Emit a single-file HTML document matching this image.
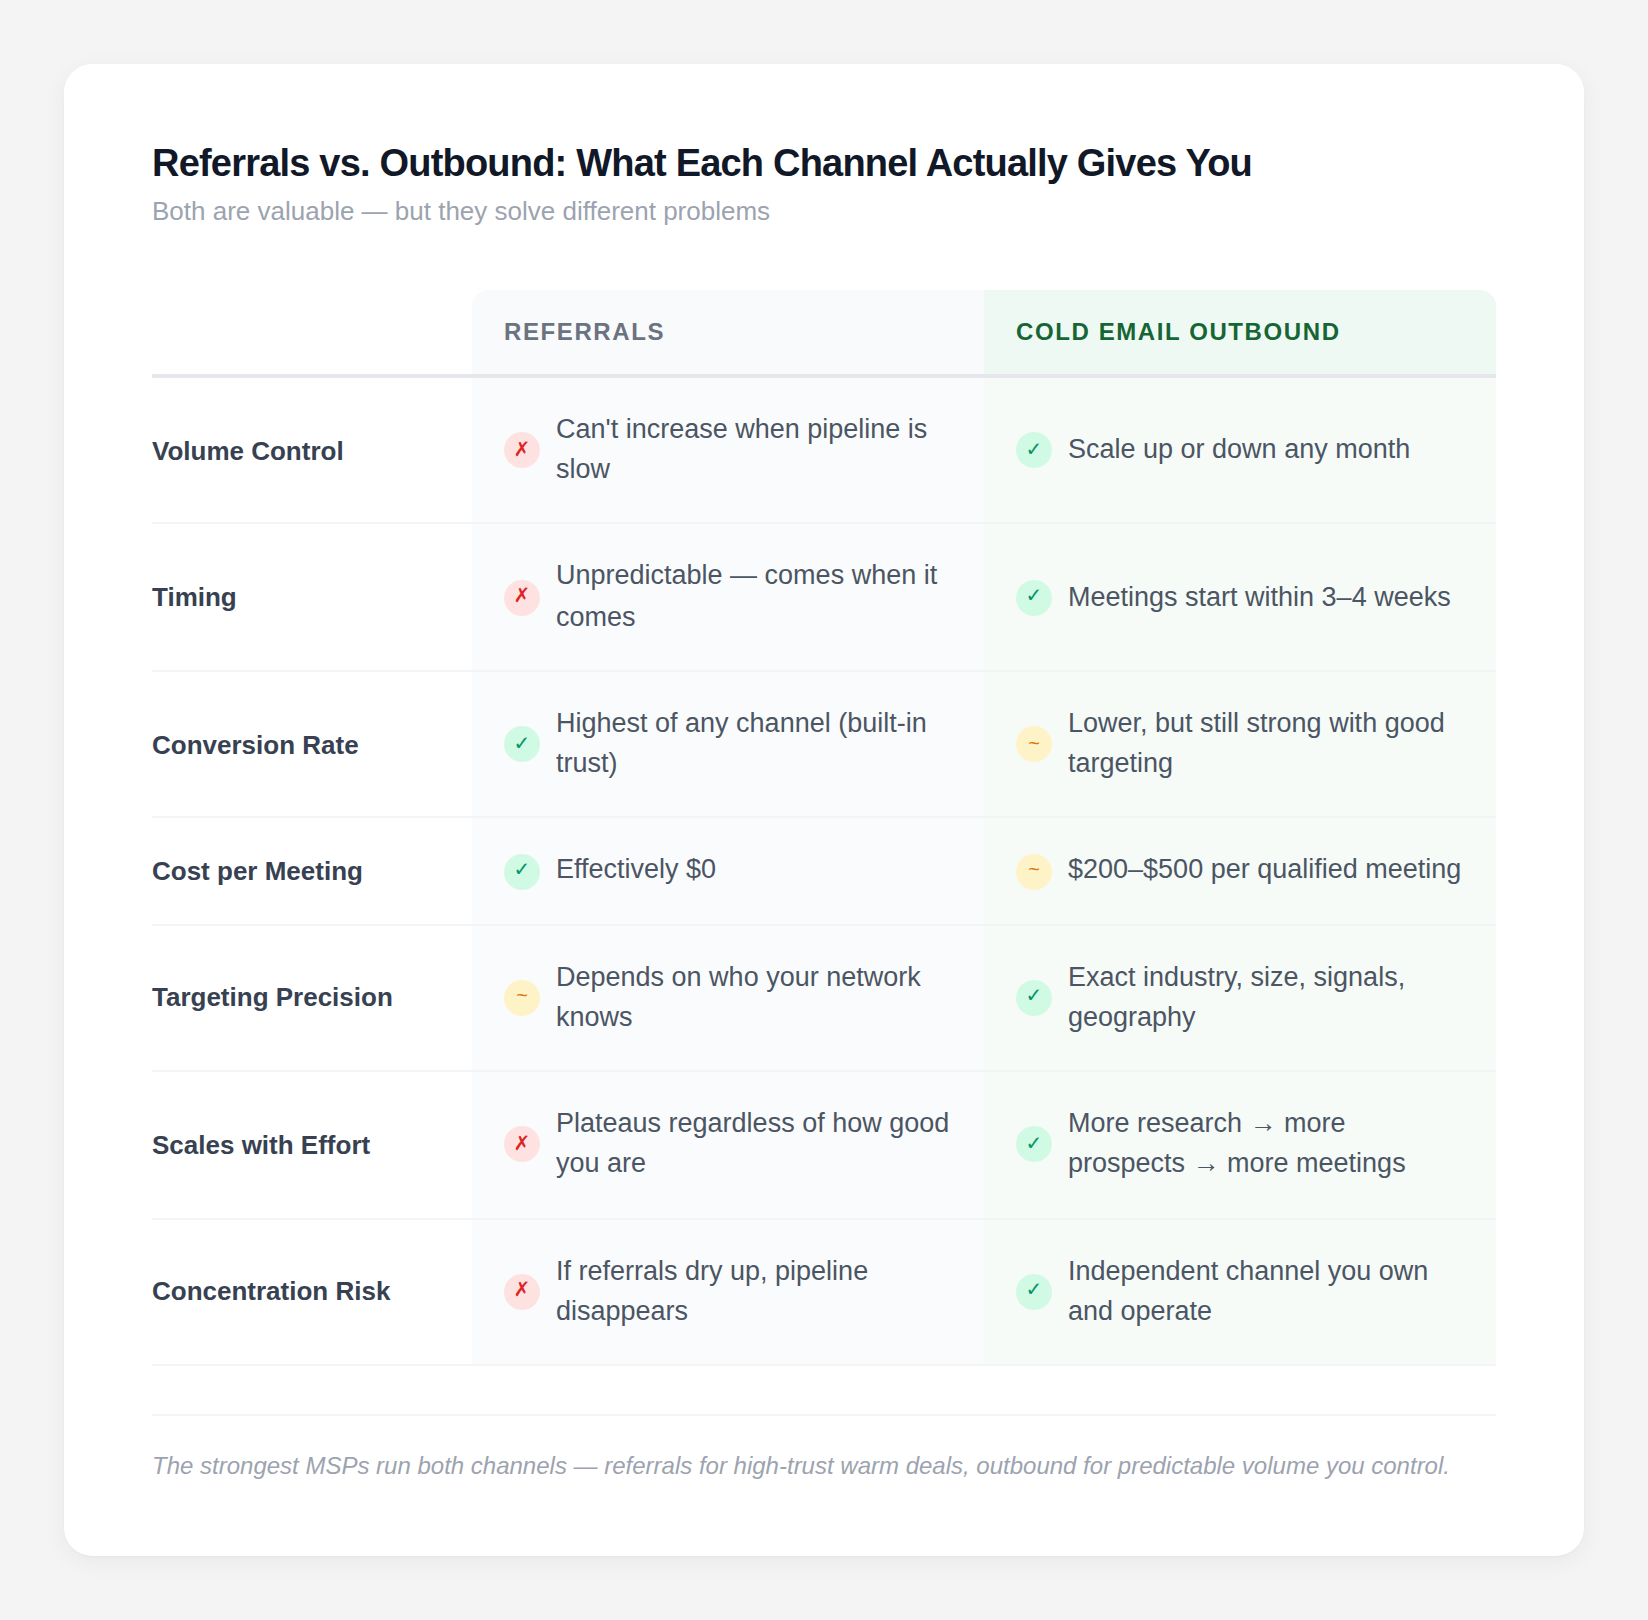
<!DOCTYPE html>
<html lang="en">
<head>
<meta charset="utf-8">
<title>Referrals vs. Outbound</title>
<style>
  html, body { margin: 0; padding: 0; }
  body {
    width: 1648px; height: 1620px; overflow: hidden;
    background: #f4f4f5;
    font-family: "Liberation Sans", Arial, sans-serif;
    position: relative;
  }
  .card {
    position: absolute; left: 64px; top: 64px; width: 1520px; height: 1492px;
    background: #ffffff; border-radius: 28px;
    box-shadow: 0 6px 24px rgba(0,0,0,0.05), 0 1px 2px rgba(0,0,0,0.03);
  }
  h1 {
    position: absolute; left: 152px; top: 140px; margin: 0;
    font-size: 38px; line-height: 46px; font-weight: 700; letter-spacing: -0.8px;
    color: #111827; white-space: nowrap;
  }
  .sub {
    position: absolute; left: 152px; top: 192px; margin: 0;
    font-size: 26px; line-height: 38px; color: #9ca3af; white-space: nowrap;
  }
  .hdr { position: absolute; left: 152px; top: 290px; width: 1344px; height: 88px; box-sizing: border-box; border-bottom: 4px solid #e5e7eb; }
  .hc {
    position: absolute; top: 0; height: 84px; width: 512px; box-sizing: border-box;
    padding: 0 32px; display: flex; align-items: center;
    font-size: 24px; font-weight: 700; letter-spacing: 1.6px; text-transform: uppercase;
  }
  .h1c { left: 320px; background: #f9fafb; color: #6b7280; border-top-left-radius: 16px; }
  .h2c { left: 832px; background: #eff9f3; color: #166534; border-top-right-radius: 16px; }
  .row {
    position: absolute; left: 152px; width: 1344px; box-sizing: border-box;
    border-bottom: 2px solid #f3f4f6;
  }
  .lab {
    position: absolute; left: 0; width: 320px;
    font-size: 26px; line-height: 40px; font-weight: 700; color: #374151; white-space: nowrap;
  }
  .cell { position: absolute; top: 0; bottom: 0; width: 512px; }
  .c1 { left: 320px; background: #fafbfc; }
  .c2 { left: 832px; background: #f6fbf8; }
  .ic {
    position: absolute; left: 32px; width: 36px; height: 36px; border-radius: 50%;
  }
  .ic .g {
    position: absolute; left: 0; width: 36px; text-align: center;
    font-family: "DejaVu Sans", sans-serif; font-size: 20px; font-weight: 400; line-height: 20px;
  }
  .ic.x { background: #fee2e2; color: #dc2626; }
  .ic.ok { background: #d1fae5; color: #059669; }
  .ic.m { background: #fef3c7; color: #d97706; }
  .ic.m .g { font-family: "Liberation Sans", sans-serif; }
  .ic .g.hi { top: 7px; }
  .ic .g.lo { top: 5px; }
  .ic.x .g.hi { top: 6.5px; }
  .ic.x .g.lo { top: 4.5px; }
  .txt {
    position: absolute; left: 84px; width: 396px;
    font-size: 27px; line-height: 40px; color: #4b5563;
  }
  .txt .l2 { display: inline-block; margin-top: 2px; }
  .sep { position: absolute; left: 152px; top: 1414px; width: 1344px; height: 2px; background: #f3f4f6; }
  .foot {
    position: absolute; left: 152px; top: 1448px; margin: 0;
    font-size: 24px; line-height: 36px; font-style: italic; color: #9ca3af; white-space: nowrap;
  }
</style>
</head>
<body>
<div class="card"></div>
<h1>Referrals vs. Outbound: What Each Channel Actually Gives You</h1>
<p class="sub">Both are valuable — but they solve different problems</p>

<div class="hdr">
  <div class="hc h1c">REFERRALS</div>
  <div class="hc h2c">COLD EMAIL OUTBOUND</div>
</div>

<div class="row" style="top:378px;height:146px">
  <div class="lab" style="top:53px">Volume Control</div>
  <div class="cell c1"><span class="ic x" style="top:54px"><span class="g hi">✗</span></span><span class="txt" style="top:31px">Can&#39;t increase when pipeline is slow</span></div>
  <div class="cell c2"><span class="ic ok" style="top:54px"><span class="g hi">✓</span></span><span class="txt" style="top:51px">Scale up or down any month</span></div>
</div>
<div class="row" style="top:524px;height:148px">
  <div class="lab" style="top:53px">Timing</div>
  <div class="cell c1"><span class="ic x" style="top:56px"><span class="g lo">✗</span></span><span class="txt" style="top:31px">Unpredictable — comes when it<br><span class="l2">comes</span></span></div>
  <div class="cell c2"><span class="ic ok" style="top:56px"><span class="g lo">✓</span></span><span class="txt" style="top:53px">Meetings start within 3–4 weeks</span></div>
</div>
<div class="row" style="top:672px;height:146px">
  <div class="lab" style="top:53px">Conversion Rate</div>
  <div class="cell c1"><span class="ic ok" style="top:54px"><span class="g hi">✓</span></span><span class="txt" style="top:31px">Highest of any channel (built-in trust)</span></div>
  <div class="cell c2"><span class="ic m" style="top:54px"><span class="g hi">~</span></span><span class="txt" style="top:31px">Lower, but still strong with good targeting</span></div>
</div>
<div class="row" style="top:818px;height:108px">
  <div class="lab" style="top:33px">Cost per Meeting</div>
  <div class="cell c1"><span class="ic ok" style="top:36px"><span class="g lo">✓</span></span><span class="txt" style="top:31px">Effectively $0</span></div>
  <div class="cell c2"><span class="ic m" style="top:36px"><span class="g lo">~</span></span><span class="txt" style="top:31px">$200–$500 per qualified meeting</span></div>
</div>
<div class="row" style="top:926px;height:146px">
  <div class="lab" style="top:51px">Targeting Precision</div>
  <div class="cell c1"><span class="ic m" style="top:54px"><span class="g lo">~</span></span><span class="txt" style="top:31px">Depends on who your network knows</span></div>
  <div class="cell c2"><span class="ic ok" style="top:54px"><span class="g lo">✓</span></span><span class="txt" style="top:31px">Exact industry, size, signals, geography</span></div>
</div>
<div class="row" style="top:1072px;height:148px">
  <div class="lab" style="top:53px">Scales with Effort</div>
  <div class="cell c1"><span class="ic x" style="top:54px"><span class="g hi">✗</span></span><span class="txt" style="top:31px">Plateaus regardless of how good you are</span></div>
  <div class="cell c2"><span class="ic ok" style="top:54px"><span class="g hi">✓</span></span><span class="txt" style="top:31px">More research → more prospects → more meetings</span></div>
</div>
<div class="row" style="top:1220px;height:146px">
  <div class="lab" style="top:51px">Concentration Risk</div>
  <div class="cell c1"><span class="ic x" style="top:54px"><span class="g lo">✗</span></span><span class="txt" style="top:31px">If referrals dry up, pipeline disappears</span></div>
  <div class="cell c2"><span class="ic ok" style="top:54px"><span class="g lo">✓</span></span><span class="txt" style="top:31px">Independent channel you own and operate</span></div>
</div>

<div class="sep"></div>
<p class="foot">The strongest MSPs run both channels — referrals for high-trust warm deals, outbound for predictable volume you control.</p>
</body>
</html>
